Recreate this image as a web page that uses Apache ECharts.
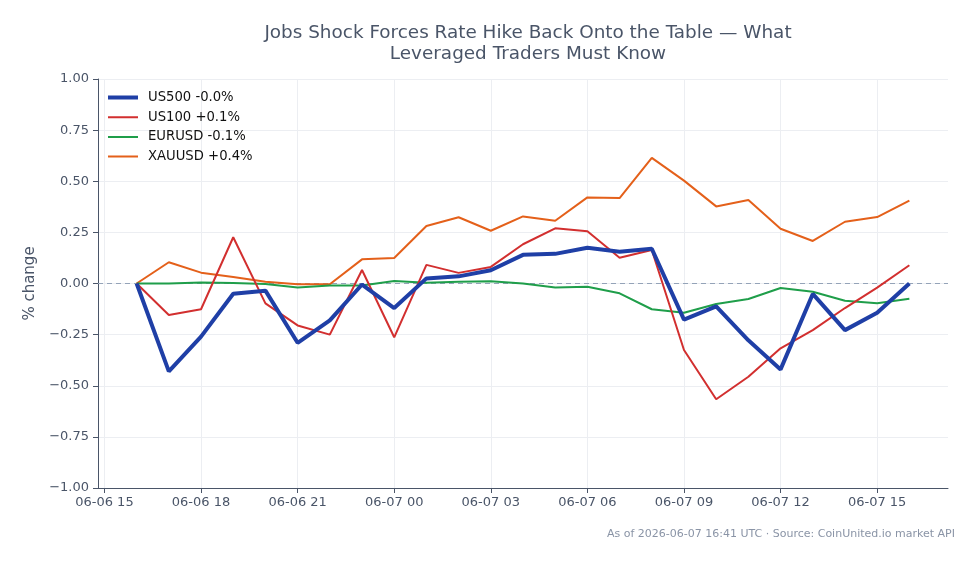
<!DOCTYPE html>
<html>
<head>
<meta charset="utf-8">
<script src="https://cdn.jsdelivr.net/npm/echarts@6/dist/echarts.min.js"></script>
<style>
  html, body { margin: 0; padding: 0; background: #fff; }
  #chart { width: 979px; height: 564px; }
</style>
</head>
<body>
<div id="chart"></div>
<script>
// hours since 06-06 00:00 UTC, one point per hour
var hours = [16, 17, 18, 19, 20, 21, 22, 23, 24, 25, 26, 27, 28, 29, 30, 31, 32, 33, 34, 35, 36, 37, 38, 39, 40]
var tickHours = [15, 18, 21, 24, 27, 30, 33, 36, 39]

var us500 = [0, -0.43, -0.26, -0.05, -0.035, -0.29, -0.18, -0.005, -0.12, 0.025, 0.035, 0.065, 0.14, 0.145, 0.175, 0.155, 0.17, -0.177, -0.112, -0.278, -0.42, -0.051, -0.228, -0.143, 0.0]
var us100 = [0, -0.154, -0.126, 0.226, -0.097, -0.205, -0.25, 0.066, -0.263, 0.091, 0.052, 0.081, 0.192, 0.27, 0.256, 0.126, 0.164, -0.325, -0.566, -0.456, -0.317, -0.228, -0.12, -0.02, 0.089]
var eurusd = [0, 0, 0.005, 0.002, -0.003, -0.02, -0.01, -0.01, 0.012, 0.004, 0.008, 0.011, 0, -0.019, -0.016, -0.048, -0.126, -0.143, -0.1, -0.076, -0.022, -0.04, -0.084, -0.097, -0.075]
var xauusd = [0, 0.104, 0.053, 0.032, 0.009, -0.004, -0.004, 0.118, 0.125, 0.281, 0.324, 0.258, 0.328, 0.307, 0.421, 0.418, 0.614, 0.503, 0.377, 0.408, 0.268, 0.208, 0.302, 0.325, 0.405]

var names = ['US500 -0.0%', 'US100 +0.1%', 'EURUSD -0.1%', 'XAUUSD +0.4%']
var colors = ['#1f3fa6', '#d22f2f', '#1f9e4a', '#e4601a']

var textColor = '#4a5568'
var font = 'DejaVu Sans'

// legend line icons: empty corner points keep the box size, the strip is the line
var thickIcon = 'path://M0,0L0,0ZM35,12L35,12ZM0,4H30V8H0Z'
var thinIcon = 'path://M0,0L0,0ZM35,12L35,12ZM0,5H30V7H0Z'

function pad2(n) {
  return (n < 10 ? '0' : '') + n
}

function hourLabel(h) {
  var day = 6 + Math.floor(h / 24)
  return '06-' + pad2(day) + ' ' + pad2(h % 24)
}

function pairs(vals) {
  return hours.map(function(h, i) { return [h, vals[i]] })
}

var chart = echarts.init(document.getElementById('chart'))

var seriesData = [us500, us100, eurusd, xauusd]
var series = seriesData.map(function(vals, i) {
  var s = {
    name: names[i],
    type: 'line',
    data: pairs(vals),
    showSymbol: false,
    symbol: 'none',
    z: 10 - i,
    lineStyle: { width: i === 0 ? 4 : 2, color: colors[i] },
    itemStyle: { color: colors[i] }
  }
  if (i === 0) {
    s.markLine = {
      silent: true,
      symbol: 'none',
      label: { show: false },
      lineStyle: { color: '#94a3b8', type: [5, 4], width: 1 },
      data: [{ yAxis: 0 }]
    }
  }
  return s
})

chart.setOption({
  backgroundColor: '#fff',
  animation: false,
  textStyle: { fontFamily: font },
  title: {
    text: 'Jobs Shock Forces Rate Hike Back Onto the Table — What\nLeveraged Traders Must Know',
    left: 523,
    textAlign: 'center',
    top: 18,
    textStyle: { color: textColor, fontSize: 18.4, fontWeight: 'normal', lineHeight: 21, fontFamily: font }
  },
  legend: {
    left: 103,
    top: 86,
    orient: 'vertical',
    itemWidth: 35,
    itemHeight: 12,
    itemGap: 6.7,
    textStyle: { color: '#111', fontSize: 13.2, fontFamily: font },
    data: names.map(function(n, i) {
      return { name: n, icon: i === 0 ? thickIcon : thinIcon, itemStyle: { color: colors[i] } }
    })
  },
  grid: { left: 98, right: 31, top: 79, bottom: 76 },
  xAxis: {
    type: 'value',
    min: 14.8,
    max: 41.2,
    axisLine: { show: true, onZero: false, lineStyle: { color: textColor, width: 1 } },
    axisTick: { show: true, length: 5, lineStyle: { color: textColor }, customValues: tickHours },
    axisLabel: {
      color: textColor,
      fontSize: 13,
      margin: 8,
      customValues: tickHours,
      formatter: function(v) { return hourLabel(Math.round(v)) }
    },
    splitLine: { show: true, lineStyle: { color: '#eceef2', width: 1 } }
  },
  yAxis: {
    type: 'value',
    name: '% change',
    nameLocation: 'middle',
    nameGap: 60,
    nameTextStyle: { color: textColor, fontSize: 15, fontFamily: font },
    min: -1,
    max: 1,
    interval: 0.25,
    axisLine: { show: true, lineStyle: { color: textColor, width: 1 } },
    axisTick: { show: true, length: 5, lineStyle: { color: textColor } },
    axisLabel: {
      color: textColor,
      fontSize: 13,
      margin: 9,
      formatter: function(v) {
        var s = Math.abs(v).toFixed(2)
        return (v < 0 ? '\u2212' : '') + s
      }
    },
    splitLine: { show: true, lineStyle: { color: '#eceef2', width: 1 } }
  },
  graphic: [{
    type: 'text',
    right: 24,
    top: 529,
    style: {
      text: 'As of 2026-06-07 16:41 UTC · Source: CoinUnited.io market API',
      fill: '#8a94a6',
      fontSize: 11,
      fontFamily: font
    }
  }],
  series: series
})
</script>
</body>
</html>
